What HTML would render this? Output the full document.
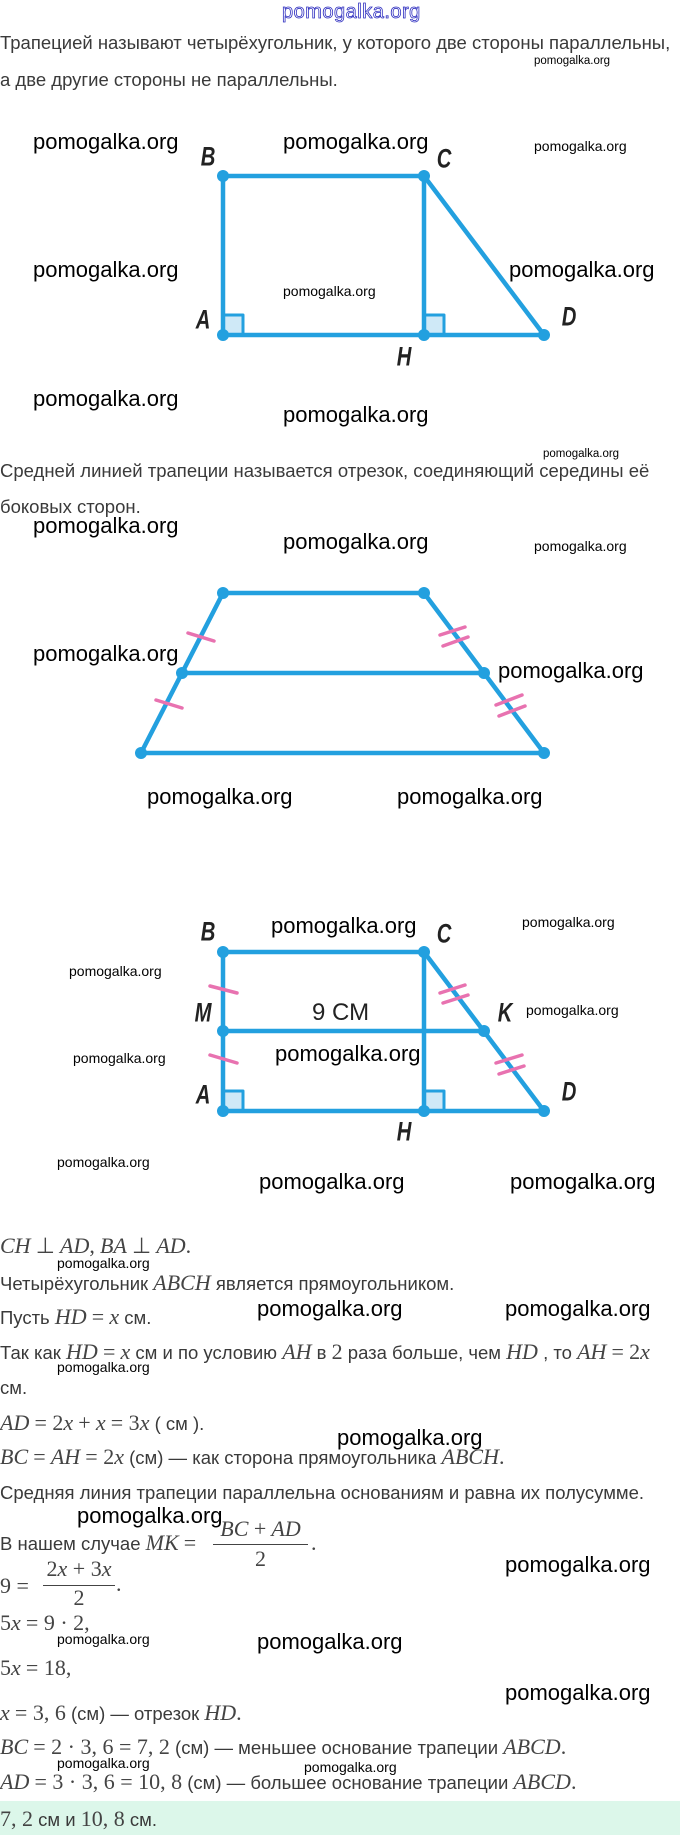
<!DOCTYPE html>
<html><head><meta charset="utf-8">
<style>
html,body{margin:0;padding:0;background:#fff;}
body{width:680px;height:1835px;position:relative;overflow:hidden;font-family:"Liberation Sans",sans-serif;color:#333;}
.t{position:absolute;left:0;white-space:nowrap;font-size:18.5px;line-height:20px;color:#3a3a3a;}
.m{font-family:"Liberation Serif",serif;font-style:italic;font-size:22px;color:#444;}
.r{font-family:"Liberation Serif",serif;font-size:22px;color:#444;}
.w{position:absolute;white-space:nowrap;color:#000;font-family:"Liberation Sans",sans-serif;line-height:1;}
.wb{font-size:22px;}
.ws{font-size:14px;}
.wx{font-size:11.5px;}
.lab{position:absolute;font-family:"Liberation Sans",sans-serif;font-style:italic;font-weight:bold;font-size:27px;color:#222;line-height:1;transform:translate(-50%,-50%) scaleX(0.75);}
</style></head><body>

<div class="w" style="left:282px;top:2px;font-size:20px;color:transparent;-webkit-text-stroke:0.8px #3030c0;letter-spacing:0.5px;">pomogalka.org</div>

<div class="t" style="top:33px;">Трапецией называют четырёхугольник, у которого две стороны параллельны,</div>
<div class="t" style="top:70px;">а две другие стороны не параллельны.</div>
<div class="w wx" style="left:534px;top:56px;">pomogalka.org</div>

<svg style="position:absolute;left:0;top:0" width="680" height="1240" viewBox="0 0 680 1240">
<g stroke="#23a0df" stroke-width="4.5" fill="none" stroke-linejoin="round">
<rect x="223" y="315" width="20" height="20" fill="#cfe9f7" stroke-width="3"/>
<rect x="424" y="315" width="20" height="20" fill="#cfe9f7" stroke-width="3"/>
<polyline points="223,335 223,176 424,176 544,335 223,335"/>
<line x1="424" y1="176" x2="424" y2="335"/>
<polygon points="223,593 424,593 544,753 141,753"/>
<line x1="182" y1="673" x2="484" y2="673"/>
<rect x="223" y="1091" width="20" height="20" fill="#cfe9f7" stroke-width="3"/>
<rect x="424" y="1091" width="20" height="20" fill="#cfe9f7" stroke-width="3"/>
<polyline points="223,1111 223,952 424,952 544,1111 223,1111"/>
<line x1="424" y1="952" x2="424" y2="1111"/>
<line x1="223" y1="1031" x2="484" y2="1031"/>
</g>
<g fill="#23a0df">
<circle cx="223" cy="176" r="6"/><circle cx="424" cy="176" r="6"/><circle cx="223" cy="335" r="6"/><circle cx="424" cy="335" r="6"/><circle cx="544" cy="335" r="6"/>
<circle cx="223" cy="593" r="6"/><circle cx="424" cy="593" r="6"/><circle cx="182" cy="673" r="6"/><circle cx="484" cy="673" r="6"/><circle cx="141" cy="753" r="6"/><circle cx="544" cy="753" r="6"/>
<circle cx="223" cy="952" r="6"/><circle cx="424" cy="952" r="6"/><circle cx="223" cy="1031" r="6"/><circle cx="484" cy="1031" r="6"/><circle cx="223" cy="1111" r="6"/><circle cx="424" cy="1111" r="6"/><circle cx="544" cy="1111" r="6"/>
</g>
<g stroke="#e872b0" stroke-width="3.5" stroke-linecap="round">
<line x1="188" y1="633" x2="214" y2="641"/>
<line x1="156" y1="700" x2="182" y2="708"/>
<line x1="440" y1="635" x2="465" y2="627"/><line x1="443" y1="646" x2="468" y2="637"/>
<line x1="496" y1="705" x2="522" y2="695"/><line x1="499" y1="716" x2="525" y2="706"/>
<line x1="210" y1="986" x2="237" y2="993"/>
<line x1="210" y1="1055" x2="237" y2="1063"/>
<line x1="440" y1="993" x2="465" y2="985"/><line x1="443" y1="1003" x2="468" y2="995"/>
<line x1="496" y1="1063" x2="522" y2="1055"/><line x1="499" y1="1074" x2="524" y2="1066"/>
</g>
</svg>

<div class="lab" style="left:208px;top:157px;">B</div>
<div class="lab" style="left:444px;top:159px;">C</div>
<div class="lab" style="left:203px;top:320px;">A</div>
<div class="lab" style="left:569px;top:317px;">D</div>
<div class="lab" style="left:404px;top:357px;">H</div>

<div class="w wb" style="left:33px;top:131px;">pomogalka.org</div>
<div class="w wb" style="left:283px;top:131px;">pomogalka.org</div>
<div class="w ws" style="left:534px;top:139px;">pomogalka.org</div>
<div class="w wb" style="left:33px;top:259px;">pomogalka.org</div>
<div class="w wb" style="left:509px;top:259px;">pomogalka.org</div>
<div class="w ws" style="left:283px;top:284px;">pomogalka.org</div>
<div class="w wb" style="left:33px;top:388px;">pomogalka.org</div>
<div class="w wb" style="left:283px;top:404px;">pomogalka.org</div>

<div class="w wx" style="left:543px;top:449px;">pomogalka.org</div>
<div class="t" style="top:461px;">Средней линией трапеции называется отрезок, соединяющий середины её</div>
<div class="t" style="top:497px;">боковых сторон.</div>
<div class="w wb" style="left:33px;top:515px;">pomogalka.org</div>
<div class="w wb" style="left:283px;top:531px;">pomogalka.org</div>
<div class="w ws" style="left:534px;top:539px;">pomogalka.org</div>
<div class="w wb" style="left:33px;top:643px;">pomogalka.org</div>
<div class="w wb" style="left:498px;top:660px;">pomogalka.org</div>
<div class="w wb" style="left:147px;top:786px;">pomogalka.org</div>
<div class="w wb" style="left:397px;top:786px;">pomogalka.org</div>

<div class="lab" style="left:208px;top:932px;">B</div>
<div class="lab" style="left:444px;top:934px;">C</div>
<div class="lab" style="left:203px;top:1013px;">M</div>
<div class="lab" style="left:505px;top:1013px;">K</div>
<div class="lab" style="left:203px;top:1095px;">A</div>
<div class="lab" style="left:569px;top:1092px;">D</div>
<div class="lab" style="left:404px;top:1132px;">H</div>
<div class="w" style="left:312px;top:1001px;font-size:24px;color:#222;">9 СМ</div>

<div class="w wb" style="left:271px;top:915px;">pomogalka.org</div>
<div class="w ws" style="left:522px;top:915px;">pomogalka.org</div>
<div class="w ws" style="left:69px;top:964px;">pomogalka.org</div>
<div class="w ws" style="left:526px;top:1003px;">pomogalka.org</div>
<div class="w wb" style="left:275px;top:1043px;">pomogalka.org</div>
<div class="w ws" style="left:73px;top:1051px;">pomogalka.org</div>
<div class="w ws" style="left:57px;top:1155px;">pomogalka.org</div>
<div class="w wb" style="left:259px;top:1171px;">pomogalka.org</div>
<div class="w wb" style="left:510px;top:1171px;">pomogalka.org</div>

<div class="t" style="top:1236px;"><span class="m">CH</span> <span class="r">⊥</span> <span class="m">AD</span><span class="r">,</span> <span class="m">BA</span> <span class="r">⊥</span> <span class="m">AD</span><span class="r">.</span></div>
<div class="w ws" style="left:57px;top:1256px;">pomogalka.org</div>
<div class="t" style="top:1273px;">Четырёхугольник <span class="m">ABCH</span> является прямоугольником.</div>
<div class="t" style="top:1307px;">Пусть <span class="m">HD</span> <span class="r">=</span> <span class="m">x</span> см.</div>
<div class="w wb" style="left:257px;top:1298px;">pomogalka.org</div>
<div class="w wb" style="left:505px;top:1298px;">pomogalka.org</div>
<div class="t" style="top:1342px;">Так как <span class="m">HD</span> <span class="r">=</span> <span class="m">x</span> см и по условию <span class="m">AH</span> в <span class="r">2</span> раза больше, чем <span class="m">HD</span> , то <span class="m">AH</span> <span class="r">=</span> <span class="r">2</span><span class="m">x</span></div>
<div class="w ws" style="left:57px;top:1360px;">pomogalka.org</div>
<div class="t" style="top:1378px;">см.</div>
<div class="t" style="top:1413px;"><span class="m">AD</span> <span class="r">= 2</span><span class="m">x</span> <span class="r">+</span> <span class="m">x</span> <span class="r">= 3</span><span class="m">x</span> ( см ).</div>
<div class="w wb" style="left:337px;top:1427px;">pomogalka.org</div>
<div class="t" style="top:1447px;"><span class="m">BC</span> <span class="r">=</span> <span class="m">AH</span> <span class="r">= 2</span><span class="m">x</span> (см) — как сторона прямоугольника <span class="m">ABCH</span><span class="r">.</span></div>
<div class="t" style="top:1483px;">Средняя линия трапеции параллельна основаниям и равна их полусумме.</div>
<div class="w wb" style="left:77px;top:1505px;">pomogalka.org</div>
<div class="t" style="top:1533px;">В нашем случае <span class="m">MK</span> <span class="r">=</span></div>
<div class="m" style="position:absolute;left:213px;top:1517px;width:95px;text-align:center;line-height:24px;white-space:nowrap;"><i>BC</i> <span style="font-style:normal">+</span> <i>AD</i></div>
<div style="position:absolute;left:213px;top:1544px;width:95px;border-top:1.3px solid #444;"></div>
<div class="r" style="position:absolute;left:213px;top:1547px;width:95px;text-align:center;line-height:24px;">2</div>
<div class="r" style="position:absolute;left:311px;top:1531px;line-height:24px;">.</div>
<div class="w wb" style="left:505px;top:1554px;">pomogalka.org</div>

<div class="r" style="position:absolute;left:0;top:1574px;line-height:24px;">9 =</div>
<div class="m" style="position:absolute;left:43px;top:1557px;width:72px;text-align:center;line-height:24px;white-space:nowrap;"><span style="font-style:normal">2</span>x <span style="font-style:normal">+ 3</span>x</div>
<div style="position:absolute;left:43px;top:1585px;width:72px;border-top:1.3px solid #444;"></div>
<div class="r" style="position:absolute;left:43px;top:1586px;width:72px;text-align:center;line-height:24px;">2</div>
<div class="r" style="position:absolute;left:116px;top:1572px;line-height:24px;">.</div>

<div class="t" style="top:1613px;"><span class="r">5</span><span class="m">x</span> <span class="r">= 9 · 2,</span></div>
<div class="w ws" style="left:57px;top:1632px;">pomogalka.org</div>
<div class="w wb" style="left:257px;top:1631px;">pomogalka.org</div>
<div class="t" style="top:1658px;"><span class="r">5</span><span class="m">x</span> <span class="r">= 18,</span></div>
<div class="w wb" style="left:505px;top:1682px;">pomogalka.org</div>
<div class="t" style="top:1703px;"><span class="m">x</span> <span class="r">= 3, 6</span> (см) — отрезок <span class="m">HD</span><span class="r">.</span></div>
<div class="t" style="top:1737px;"><span class="m">BC</span> <span class="r">= 2 · 3, 6 = 7, 2</span> (см) — меньшее основание трапеции <span class="m">ABCD</span><span class="r">.</span></div>
<div class="w ws" style="left:57px;top:1756px;">pomogalka.org</div>
<div class="w ws" style="left:304px;top:1760px;">pomogalka.org</div>
<div class="t" style="top:1772px;"><span class="m">AD</span> <span class="r">= 3 · 3, 6 = 10, 8</span> (см) — большее основание трапеции <span class="m">ABCD</span><span class="r">.</span></div>

<div style="position:absolute;left:0;top:1801px;width:680px;height:34px;background:#dcf7ea;"></div>
<div class="t" style="top:1809px;"><span class="r">7, 2</span> см и <span class="r">10, 8</span> см.</div>

</body></html>
